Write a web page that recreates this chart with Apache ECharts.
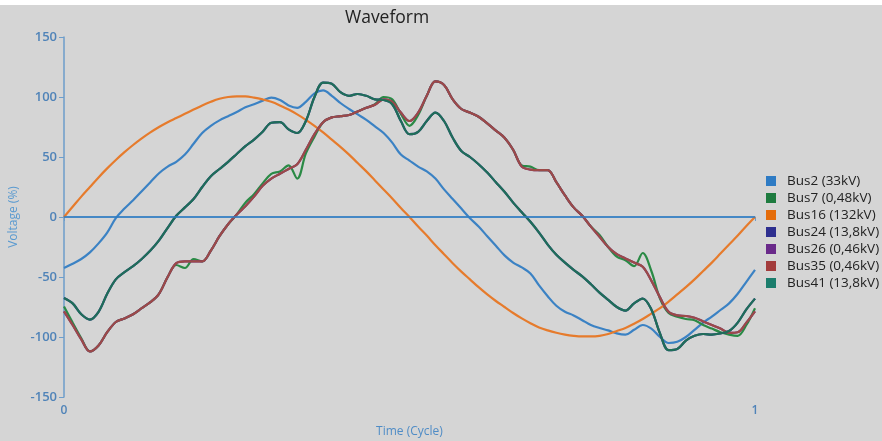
<!DOCTYPE html>
<html>
<head>
<meta charset="utf-8">
<script src="https://cdn.jsdelivr.net/npm/echarts@6/dist/echarts.min.js"></script>
<style>html,body{margin:0;padding:0;background:#d5d5d5;overflow:hidden}#c{width:882px;height:441px}</style>
</head>
<body>
<div id="c"></div>
<script>
const time = [0,0.0125,0.025,0.0375,0.05,0.0625,0.075,0.0875,0.1,0.1125,0.125,0.1375,0.15,0.1625,0.175,0.1875,0.2,0.2125,0.225,0.2375,0.25,0.2625,0.275,0.2875,0.3,0.3125,0.325,0.3375,0.35,0.3625,0.375,0.3875,0.4,0.4125,0.425,0.4375,0.45,0.4625,0.475,0.4875,0.5,0.5125,0.525,0.5375,0.55,0.5625,0.575,0.5875,0.6,0.6125,0.625,0.6375,0.65,0.6625,0.675,0.6875,0.7,0.7125,0.725,0.7375,0.75,0.7625,0.775,0.7875,0.8,0.8125,0.825,0.8375,0.85,0.8625,0.875,0.8875,0.9,0.9125,0.925,0.9375,0.95,0.9625,0.975,0.9875,1];

const bus2 = [-42.5,-39,-35,-29.5,-22,-13,-1,7,14,21.5,29,36.5,42,46,52,61,70,76,80.5,84,87.5,91.5,94,97,99.5,97.5,93,91,96,103,105.5,101,95,90,85.5,81,75.5,70,62,52,47,42,38,32,23,15,7,-1,-8,-16,-24,-32,-38,-42,-47,-57,-66,-74,-79,-82,-86,-90,-92.5,-94.5,-97,-98,-94,-90,-93,-100,-105,-104,-100,-94,-88,-83,-77.5,-72,-64,-54,-44];

const bus7 = [-74.5,-88,-101,-112,-107,-96,-87.5,-84.5,-81,-76,-71,-64,-50,-40,-42.5,-35,-37,-28,-16,-6,2,12,19,28,36,38,43,32,53,67,79,83,84,85,88,91,94,100,98,86,76,85,101,113,110,98,90,87,83.5,78,72,66,56,43,42,39,39,29,18,8,1,-8,-15,-25,-33,-36,-41,-30,-45,-68,-80,-83,-85,-86,-90,-93,-96,-98,-99,-90,-76];

const bus16 = [0,8.5,17,25,33,40.5,47.5,54,60,65.5,70.5,75,79,82.5,86,89.5,93,96,98.5,100,100.5,100.5,99.5,98,96,93,89.5,85.5,81,76,70.5,64.5,58.5,52,45,38,30.5,23,15.5,7.5,0,-8,-15.5,-23.5,-31,-38.5,-45.5,-52,-58.5,-64.5,-70,-75,-80,-84.5,-88.5,-92,-94.5,-96.5,-98,-99,-99.5,-99.5,-99,-97.5,-95,-92.5,-89,-85,-80.5,-76,-70.5,-64.5,-58.5,-52,-45,-38,-30.5,-23,-15.5,-7.5,0];

const bus41 = [-67.5,-72,-81,-85.5,-79,-64,-52,-46,-41,-35,-28,-19.5,-9,1,8,15,25,34,40,46,52.5,59,64.5,71,78.5,79,73,70,80,100,112,111,104,101,102.5,101,98,97.5,94,80,69,71,80,87,80,66,55,50,44,37,29,21,12,4,-4,-13,-23,-31.5,-38,-44,-49.5,-56,-63,-69,-75,-78,-72,-68,-77,-97,-111,-110,-103,-99,-97.5,-98,-97,-95,-88,-77,-68];

const bus35 = [-78.6,-90,-102,-112,-107,-96,-87.5,-84.5,-81,-76,-71,-64,-50,-38.5,-37,-37,-37,-28,-16,-6,2,9,17,26,32,36,40,44,56,69,79,83,84,85,88,91,93.5,98,96,87,80,87,101,113,110,98,90,87,83.5,78,72,66,56,42,39.5,39,39,29,18,8,1,-8,-16.5,-25,-31,-34.5,-38,-41.5,-53,-67,-79,-82,-82.5,-84,-87,-90,-93,-96.5,-96,-88,-78.6];

// Buses drawn underneath the visible curves (same waveforms as their paired buses)
const bus24 = bus41;
const bus26 = bus35;

const seriesNames = ['Bus2 (33kV)','Bus7 (0,48kV)','Bus16 (132kV)','Bus24 (13,8kV)','Bus26 (0,46kV)','Bus35 (0,46kV)','Bus41 (13,8kV)'];
const seriesData = [bus2, bus7, bus16, bus24, bus26, bus35, bus41];
const legendColors = ['#2e7bc4','#1e7b3f','#e46c0a','#2e2f8f','#6a2a8a','#a33c3c','#1b7d6c'];
const lineColors = ['#3b82c4','#2a8a45','#e67b2c','#2e2f8f','#6a2a8a','#9c4a48','#1f6e58'];

const chart = echarts.init(document.getElementById('c'), null, { width: 882, height: 441 });
const series = seriesNames.map((name, k) => {
  const s = {
    name: name,
    type: 'line',
    data: time.map((t, i) => [t, seriesData[k][i]]),
    showSymbol: false,
    smooth: 0.35,
    color: legendColors[k],
    lineStyle: { color: lineColors[k], width: 2.2 },
    emphasis: { disabled: true },
    animation: false
  };
  if (k === 0) {
    s.markLine = {
      silent: true,
      symbol: ['none','none'],
      label: { show: false },
      lineStyle: { color: '#2f7cc2', width: 1.6, type: 'solid' },
      data: [{ yAxis: 0 }],
      animation: false
    };
  }
  return s;
});

chart.setOption({
  backgroundColor: '#d5d5d5',
  animation: false,
  graphic: [{ type: 'rect', left: 0, top: 0, shape: { width: 882, height: 5 }, style: { fill: '#ffffff' } }],
  title: {
    text: 'Waveform',
    left: 340, top: 4,
    textStyle: { fontFamily: 'Open Sans', fontSize: 17.5, fontWeight: 'normal', color: '#222' }
  },
  legend: {
    orient: 'vertical',
    left: 761, top: 169,
    itemWidth: 10, itemHeight: 10, itemGap: 3,
    icon: 'rect',
    data: seriesNames,
    textStyle: { fontFamily: 'Open Sans', fontSize: 13.5, color: '#222', padding: [0,0,0,6] }
  },
  grid: { left: 64, width: 691, top: 37, height: 360, containLabel: false, outerBoundsMode: 'none' },
  xAxis: {
    type: 'value', min: 0, max: 1, interval: 1,
    name: 'Time (Cycle)', nameLocation: 'middle', nameGap: 29,
    nameTextStyle: { fontFamily: 'Open Sans', fontSize: 12, color: '#4f8cc6' },
    axisLine: { lineStyle: { color: '#6d9dca', width: 1.5 } },
    axisTick: { show: true, length: 4, lineStyle: { color: '#6d9dca' } },
    axisLabel: { fontFamily: 'Open Sans', fontSize: 12, fontWeight: 600, color: '#4f83b8', margin: 8 },
    splitLine: { show: false }
  },
  yAxis: {
    type: 'value', min: -150, max: 150, interval: 50,
    name: 'Voltage (%)', nameLocation: 'middle', nameGap: 44, nameRotate: 90,
    nameTextStyle: { fontFamily: 'Open Sans', fontSize: 12, color: '#5a9ad0' },
    axisLine: { show: true, lineStyle: { color: '#6d9dca', width: 1.5 } },
    axisTick: { show: true, length: 5, lineStyle: { color: '#6d9dca' } },
    axisLabel: { fontFamily: 'Open Sans', fontSize: 13, fontWeight: 600, color: '#4f83b8', margin: 7 },
    splitLine: { show: false }
  },
  series: series
});
</script>
</body>
</html>
